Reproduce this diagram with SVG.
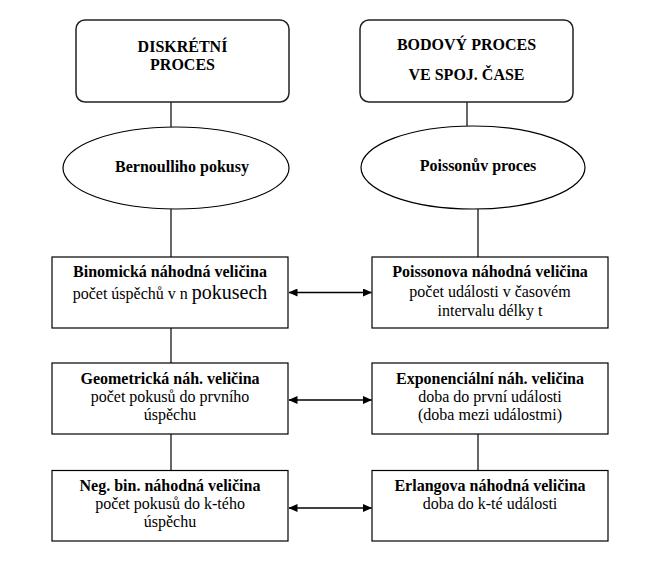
<svg xmlns="http://www.w3.org/2000/svg" width="660" height="579" viewBox="0 0 660 579">
<style>
text{font-size:16px;fill:#000;text-anchor:middle}
.b{font-weight:bold}
.top{fill:#fff;stroke:#222;stroke-width:1.5}
.node{fill:#fff;stroke:#000;stroke-width:1.2}
.line{stroke:#000;stroke-width:1.2;fill:none}
.arr{stroke:#000;stroke-width:1.5;fill:none;marker-start:url(#ah);marker-end:url(#ah)}
</style>
<defs>
<marker id="ah" markerWidth="9" markerHeight="8" refX="8.5" refY="4" orient="auto-start-reverse" markerUnits="userSpaceOnUse">
<path d="M0,0 L9,4 L0,8 Z" fill="#000"/>
</marker>
</defs>
<rect width="660" height="579" fill="#fff"/>
<g id="connectors">
<line class="line" x1="171" y1="102" x2="171" y2="127"/>
<line class="line" x1="171" y1="209" x2="171" y2="257"/>
<line class="line" x1="171" y1="328" x2="171" y2="363"/>
<line class="line" x1="171" y1="434" x2="171" y2="470.5"/>
<line class="line" x1="467" y1="102" x2="467" y2="126"/>
<line class="line" x1="478" y1="209" x2="478" y2="257"/>
<line class="line" x1="478" y1="434" x2="478" y2="470.5"/>
<line class="arr" x1="289" y1="292.5" x2="371.5" y2="292.5"/>
<line class="arr" x1="289" y1="400" x2="371.5" y2="400"/>
<line class="arr" x1="289" y1="508" x2="371.5" y2="508"/>
</g>
<g font-family="'Liberation Serif', 'DejaVu Serif', serif">
<g id="diskretni">
<rect class="top" x="76" y="20" width="213" height="82" rx="9"/>
<text class="b" x="182.5" y="52">DISKRÉTNÍ</text>
<text class="b" x="182.5" y="70">PROCES</text>
</g>
<g id="bodovy">
<rect class="top" x="360" y="20" width="213" height="82" rx="9"/>
<text class="b" x="466.5" y="49.5">BODOVÝ PROCES</text>
<text class="b" x="466.5" y="80">VE SPOJ. ČASE</text>
</g>
<g id="bernoulli">
<ellipse class="node" cx="176" cy="168" rx="113" ry="41"/>
<text class="b" x="182" y="172">Bernoulliho pokusy</text>
</g>
<g id="poisson-proces">
<ellipse class="node" cx="473" cy="167.5" rx="112" ry="41.5"/>
<text class="b" x="478" y="171">Poissonův proces</text>
</g>
<g id="binomicka">
<rect class="node" x="52" y="257" width="236" height="71"/>
<text class="b" x="170" y="277">Binomická náhodná veličina</text>
<text x="170" y="299">počet úspěchů v n <tspan font-size="20">pokusech</tspan></text>
</g>
<g id="poissonova">
<rect class="node" x="372" y="257" width="236" height="71"/>
<text class="b" x="490" y="277">Poissonova náhodná veličina</text>
<text x="490" y="297">počet události v časovém</text>
<text x="490" y="316">intervalu délky t</text>
</g>
<g id="geometricka">
<rect class="node" x="52" y="363" width="236" height="71"/>
<text class="b" x="170" y="384">Geometrická náh. veličina</text>
<text x="170" y="402">počet pokusů do prvního</text>
<text x="170" y="420">úspěchu</text>
</g>
<g id="exponencialni">
<rect class="node" x="372" y="363" width="236" height="71"/>
<text class="b" x="490" y="384">Exponenciální náh. veličina</text>
<text x="490" y="402">doba do první události</text>
<text x="490" y="420">(doba mezi událostmi)</text>
</g>
<g id="negbin">
<rect class="node" x="52" y="470.5" width="236" height="70.5"/>
<text class="b" x="170" y="491">Neg. bin. náhodná veličina</text>
<text x="170" y="509">počet pokusů do k-tého</text>
<text x="170" y="527">úspěchu</text>
</g>
<g id="erlangova">
<rect class="node" x="372" y="470.5" width="236" height="70.5"/>
<text class="b" x="490" y="491">Erlangova náhodná veličina</text>
<text x="490" y="509">doba do k-té události</text>
</g>
</g>
</svg>
